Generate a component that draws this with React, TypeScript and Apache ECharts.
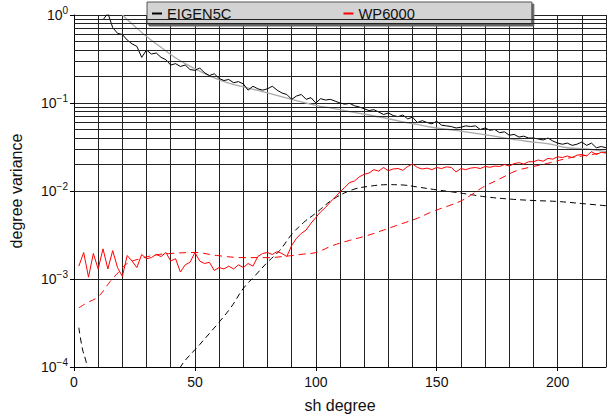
import React, { useEffect, useRef } from "react";
import * as echarts from "echarts";

// EIGEN5C signal degree variance, degrees 12..220 step 2
const eigenStart = 12;
const eigenStep = 2;
const eigenValues = [
  0.88, 1.05, 0.72, 0.62, 0.6, 0.52, 0.47, 0.44, 0.33, 0.4,
  0.36, 0.37, 0.33, 0.31, 0.27, 0.28, 0.26, 0.27, 0.24, 0.235,
  0.25, 0.22, 0.205, 0.215, 0.19, 0.18, 0.185, 0.17, 0.175, 0.165,
  0.14, 0.155, 0.145, 0.14, 0.145, 0.155, 0.14, 0.13, 0.125, 0.11,
  0.12, 0.125, 0.11, 0.115, 0.1, 0.112, 0.108, 0.11, 0.105, 0.1,
  0.097, 0.099, 0.093, 0.09, 0.086, 0.082, 0.084, 0.079, 0.074, 0.077,
  0.072, 0.07, 0.073, 0.066, 0.069, 0.06, 0.063, 0.06, 0.058, 0.062,
  0.056, 0.055, 0.054, 0.052, 0.053, 0.055, 0.054, 0.055, 0.05, 0.052,
  0.049, 0.05, 0.046, 0.047, 0.043, 0.044, 0.041, 0.042, 0.04, 0.04,
  0.039, 0.038, 0.04, 0.037, 0.035, 0.034, 0.035, 0.033, 0.034, 0.036,
  0.033, 0.035, 0.031, 0.032, 0.031,
];

// WP6000 degree variance (x1e-3), degrees 2..220 step 2
const wpStart = 2;
const wpStep = 2;
const wpValuesE3 = [
  1.4, 2.0, 1.05, 1.95, 1.3, 2.2, 1.3, 2.1, 1.35, 1.07,
  1.85, 1.6, 1.35, 1.9, 1.7, 1.75, 1.9, 1.8, 2.0, 1.6,
  1.7, 1.2, 1.45, 1.55, 2.0, 1.6, 1.5, 1.55, 1.25, 1.35,
  1.3, 1.4, 1.3, 1.45, 1.35, 1.5, 1.4, 1.8, 1.95, 2.0,
  1.9, 2.05, 1.95, 1.8, 2.4, 2.9, 3.3, 3.6, 4.3, 5.0,
  5.8, 6.5, 7.5, 8.5, 9.8, 11.0, 12.5, 13.0, 14.5, 15.5,
  16.0, 17.5, 16.8, 18.5, 17.0, 17.8, 18.0, 17.2, 19.0, 20.3,
  18.5, 17.8, 18.2, 17.5, 18.5, 18.0, 18.8, 18.5, 16.5, 18.0,
  17.5, 18.2, 18.5, 18.0, 19.0, 18.6, 19.2, 19.0, 20.0, 19.2,
  20.5, 21.0, 20.2, 21.5, 21.5, 22.5, 21.8, 23.5, 23.0, 24.5,
  24.0, 25.0, 24.0, 25.5, 26.0, 25.0, 28.0, 26.0, 27.5, 27.0,
];

// Smooth reference curve (grey)
const kaulaDeg = [20, 25, 30, 35, 41, 46, 52, 59, 65, 72, 80, 90, 100, 107, 114, 121, 128, 135, 142, 148, 155, 162, 169, 176, 183, 190, 197, 204, 212, 220];
const kaulaVal = [1.0, 0.75, 0.57, 0.45, 0.34, 0.28, 0.23, 0.188, 0.165, 0.148, 0.13, 0.11, 0.094, 0.087, 0.08, 0.074, 0.068, 0.062, 0.057, 0.053, 0.05, 0.047, 0.044, 0.041, 0.038, 0.036, 0.034, 0.031, 0.03, 0.028];

// Black dashed curve
const blackDashDeg = [2, 3.5, 5, 7, 10, 20, 30, 38, 44, 52, 59, 65, 70, 75, 80, 85, 90, 95, 100, 107, 115, 122, 130, 136, 142, 150, 156, 163, 170, 180, 190, 200, 210, 220];
const blackDashVal = [2.8e-4, 1.6e-4, 1.15e-4, 6e-5, 2.5e-5, 8e-6, 1.5e-5, 4.5e-5, 1e-4, 1.8e-4, 3e-4, 4.8e-4, 7.8e-4, 1.1e-3, 1.55e-3, 2.1e-3, 3.2e-3, 4.4e-3, 5.6e-3, 8.0e-3, 1.03e-2, 1.13e-2, 1.18e-2, 1.17e-2, 1.11e-2, 1.03e-2, 9.8e-3, 9.2e-3, 8.6e-3, 8.1e-3, 7.8e-3, 7.6e-3, 7.2e-3, 6.8e-3];

// Red dashed curve
const redDashDeg = [2, 5, 10, 15, 18.5, 22, 28, 34, 40, 50, 59, 70, 80, 88, 95, 100, 107, 114, 121, 128, 135, 142, 148, 155, 160, 165, 169, 176, 183, 190, 197, 204, 210, 220];
const redDashVal = [4.7e-4, 5.3e-4, 6.3e-4, 9.4e-4, 1.2e-3, 1.5e-3, 1.72e-3, 1.88e-3, 1.95e-3, 2.0e-3, 1.85e-3, 1.75e-3, 1.75e-3, 1.82e-3, 1.92e-3, 2.0e-3, 2.4e-3, 2.75e-3, 3.1e-3, 3.6e-3, 4.2e-3, 4.9e-3, 5.8e-3, 6.8e-3, 7.7e-3, 9.3e-3, 1.1e-2, 1.37e-2, 1.7e-2, 1.9e-2, 2.1e-2, 2.35e-2, 2.5e-2, 2.75e-2];

const minorGridValues = [
  2e-4, 3e-4, 4e-4, 5e-4, 6e-4, 7e-4, 8e-4, 9e-4,
  2e-3, 3e-3, 4e-3, 5e-3, 6e-3, 7e-3, 8e-3, 9e-3,
  2e-2, 3e-2, 4e-2, 5e-2, 6e-2, 7e-2, 8e-2, 9e-2,
  2e-1, 3e-1, 4e-1, 5e-1, 6e-1, 7e-1, 8e-1, 9e-1,
];

const FONT = "'Liberation Sans', Arial, Helvetica, sans-serif";

export default function App() {
  const ref = useRef<HTMLDivElement>(null);
  useEffect(() => {
    if (!ref.current) return;
    const chart = echarts.init(ref.current, null, { renderer: "svg" });
    const eigenData = eigenValues.map((v, i) => [eigenStart + i * eigenStep, v]);
    const wpData = wpValuesE3.map((v, i) => [wpStart + i * wpStep, v * 1e-3]);
    const kaulaData = kaulaDeg.map((d, i) => [d, kaulaVal[i]]);
    const blackDashData = blackDashDeg.map((d, i) => [d, blackDashVal[i]]);
    const redDashData = redDashDeg.map((d, i) => [d, redDashVal[i]]);
    const gridColor = "#222";
    chart.setOption({
      animation: false,
      textStyle: { fontFamily: FONT },
      grid: { left: 73, right: 6, top: 15, bottom: 49 },
      legend: {
        data: ["EIGEN5C", "WP6000"],
        left: 147,
        top: 2,
        padding: [4, 117, 3, 5],
        itemGap: 112,
        itemWidth: 10,
        itemHeight: 2,
        icon: "rect",
        backgroundColor: "#d3d3d3",
        borderColor: "#555",
        borderWidth: 1,
        shadowColor: "#666",
        shadowOffsetX: 2,
        shadowOffsetY: 2,
        shadowBlur: 0,
        textStyle: { fontSize: 14.7, color: "#111", fontFamily: FONT },
      },
      xAxis: {
        type: "value",
        min: 0,
        max: 220,
        interval: 50,
        name: "sh degree",
        nameLocation: "middle",
        nameGap: 30,
        nameTextStyle: { fontSize: 16, color: "#111", fontFamily: FONT },
        axisLine: { show: true, onZero: false, lineStyle: { color: "#000", width: 1 } },
        axisTick: { show: true, length: 4, lineStyle: { color: "#000" } },
        axisLabel: { fontSize: 14, color: "#111", margin: 8, fontFamily: FONT, showMaxLabel: false },
        splitLine: { show: true, lineStyle: { color: gridColor, width: 1 } },
        minorTick: { show: false, splitNumber: 5 },
        minorSplitLine: { show: true, lineStyle: { color: gridColor, width: 1 } },
      },
      yAxis: {
        type: "log",
        logBase: 10,
        min: 1e-4,
        max: 1,
        name: "degree variance",
        nameLocation: "middle",
        nameGap: 50,
        nameTextStyle: { fontSize: 16, color: "#111", fontFamily: FONT },
        axisLine: { show: true, lineStyle: { color: "#000", width: 1 } },
        axisTick: { show: true, length: 4, lineStyle: { color: "#000" } },
        axisLabel: {
          fontSize: 14,
          color: "#111",
          margin: 6,
          fontFamily: FONT,
          formatter: (v: number) => {
            const e = Math.round(Math.log10(v));
            return "10{sup|" + (e === 0 ? "0" : "\u2212" + Math.abs(e)) + "}";
          },
          rich: {
            sup: { fontSize: 10, color: "#111", fontFamily: FONT, padding: [0, 0, 9, 0] },
          },
        },
        splitLine: { show: true, lineStyle: { color: gridColor, width: 1 } },
      },
      series: [
        {
          type: "line",
          name: "grid",
          data: [],
          silent: true,
          z: 1,
          markLine: {
            silent: true,
            symbol: "none",
            label: { show: false },
            animation: false,
            lineStyle: { color: gridColor, width: 1, type: "solid" },
            data: minorGridValues.map((v) => ({ yAxis: v })),
          },
        },
        {
          type: "line",
          name: "kaula",
          data: kaulaData,
          smooth: 0.4,
          showSymbol: false,
          z: 3,
          lineStyle: { color: "#aaaaaa", width: 1.3 },
        },
        {
          type: "line",
          name: "EIGEN5C",
          data: eigenData,
          showSymbol: false,
          z: 4,
          itemStyle: { color: "#000" },
          lineStyle: { color: "#000", width: 1 },
        },
        {
          type: "line",
          name: "eigenErr",
          data: blackDashData,
          smooth: 0.4,
          showSymbol: false,
          z: 4,
          lineStyle: { color: "#000", width: 1, type: [6, 4] },
        },
        {
          type: "line",
          name: "WP6000",
          data: wpData,
          showSymbol: false,
          z: 5,
          itemStyle: { color: "#ff0000" },
          lineStyle: { color: "#ff0000", width: 1 },
        },
        {
          type: "line",
          name: "wpErr",
          data: redDashData,
          smooth: 0.4,
          showSymbol: false,
          z: 5,
          lineStyle: { color: "#ff0000", width: 1, type: [7, 5] },
        },
      ],
    });
    return () => chart.dispose();
  }, []);
  return <div ref={ref} style={{ width: 612, height: 418, position: "absolute", left: 0, top: 0, background: "#fff" }} />;
}
